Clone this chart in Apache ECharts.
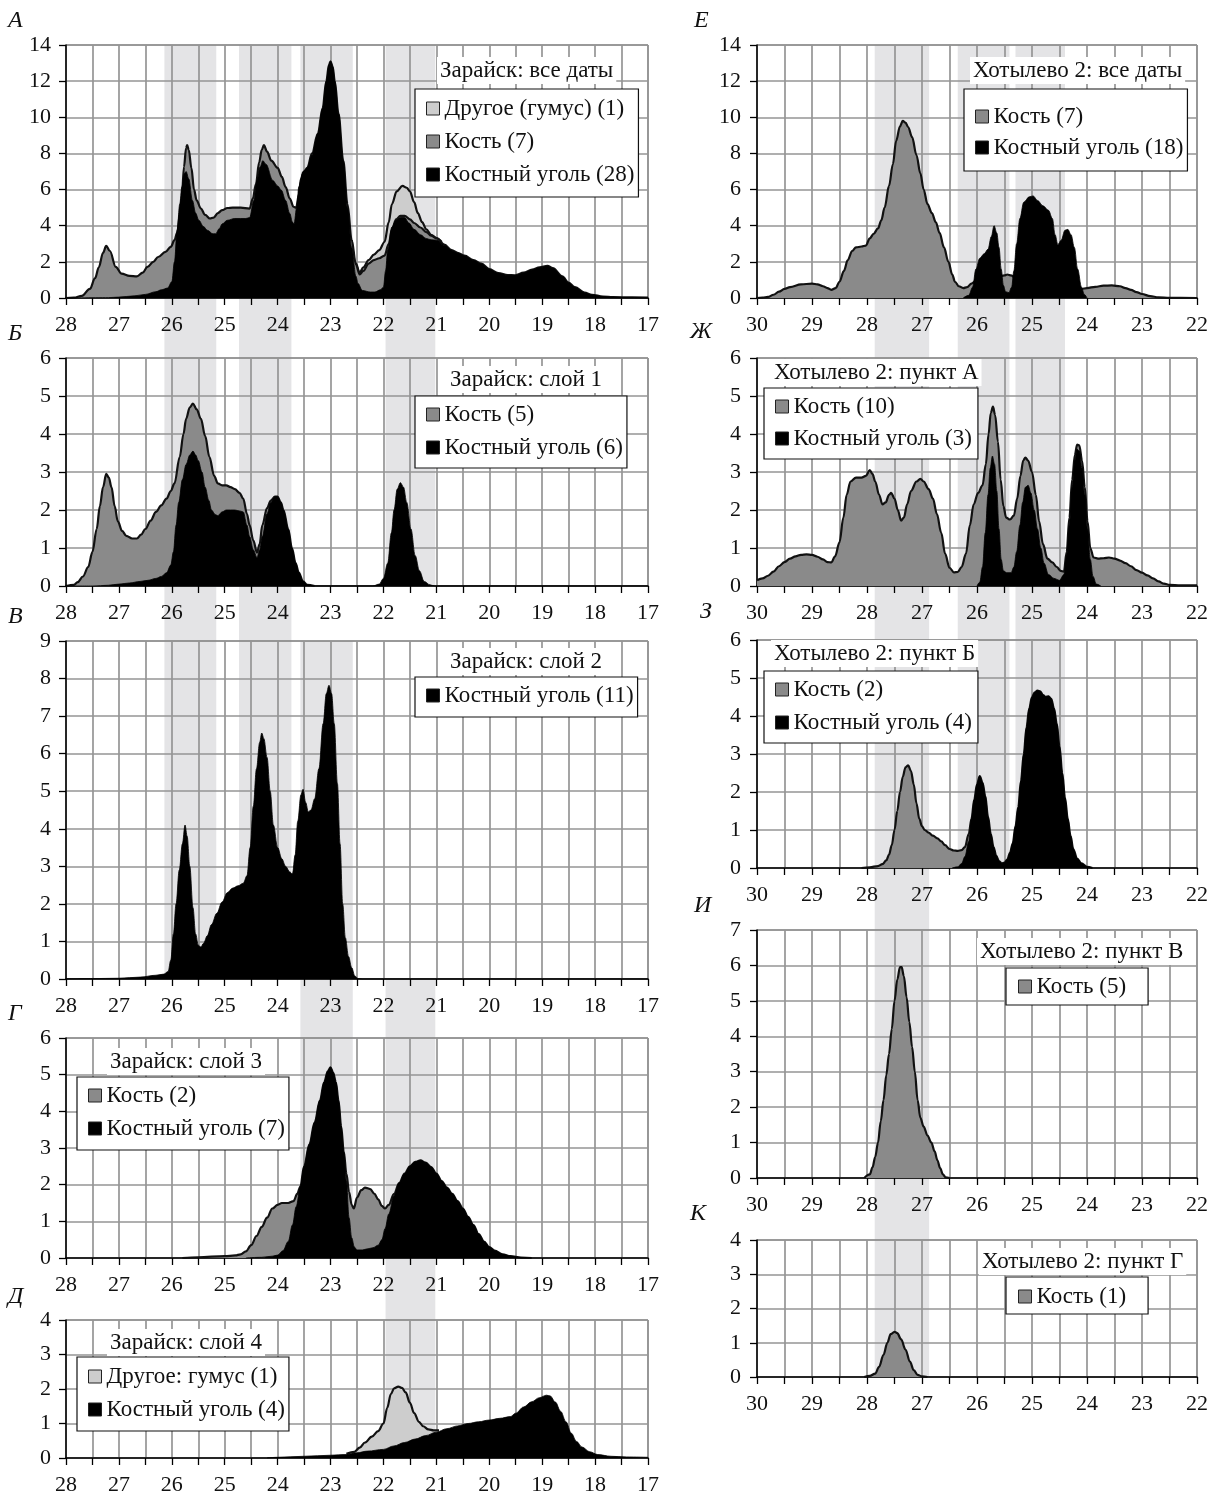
<!DOCTYPE html>
<html>
<head>
<meta charset="utf-8">
<script src="https://cdn.jsdelivr.net/npm/echarts@6/dist/echarts.min.js"></script>
<style>
  html, body { margin: 0; padding: 0; background: #fff; }
  #chart { width: 1221px; height: 1497px; }
</style>
</head>
<body>
<div id="chart"></div>
<script>
// ---------- Summed calibrated-date probability curves (ka cal BP) ----------
// Each array is the visible top edge of one fill: [age, density].

// Зарайск: все даты
const zarAllHumus = [[22.6,3.2],[22.52,1.9],[22.45,1.4],[22.38,1.7],[22.28,2.1],[22.18,2.4],[22.08,2.65],[21.98,3.1],[21.9,4.2],[21.84,5.2],[21.75,5.9],[21.64,6.2],[21.56,6.1],[21.5,5.9],[21.42,5.3],[21.35,4.7],[21.27,4.2],[21.19,3.8],[21.1,3.5],[20.99,3.3],[20.9,3.1]];
const zarAllBone = [[28,0],[27.85,0.02],[27.7,0.12],[27.55,0.5],[27.45,1.1],[27.38,1.7],[27.3,2.5],[27.24,2.88],[27.17,2.6],[27.06,1.72],[26.95,1.35],[26.8,1.22],[26.66,1.2],[26.55,1.4],[26.46,1.72],[26.35,2.0],[26.26,2.27],[26.12,2.55],[26.02,2.83],[25.95,3.2],[25.9,3.6],[25.84,4.8],[25.81,5.6],[25.77,7.26],[25.73,8.3],[25.71,8.46],[25.68,8.2],[25.63,7.2],[25.58,6.0],[25.53,5.4],[25.45,4.95],[25.37,4.6],[25.28,4.4],[25.21,4.45],[25.13,4.7],[25.05,4.86],[24.95,4.98],[24.85,5.0],[24.7,5.0],[24.53,4.95],[24.47,5.5],[24.41,6.3],[24.35,7.5],[24.3,8.2],[24.26,8.46],[24.2,8.1],[24.12,7.6],[24.0,7.2],[23.92,6.7],[23.85,6.15],[23.77,5.5],[23.7,5.05],[23.65,5.0],[23.6,5.7],[23.56,6.6],[23.5,7.0],[23.44,7.2],[23.35,8.0],[23.24,9.1],[23.15,10.5],[23.08,12.0],[23.03,12.9],[23.0,13.1],[22.96,12.8],[22.92,12.0],[22.85,10.2],[22.76,7.6],[22.68,5.2],[22.6,3.2],[22.52,1.85],[22.45,1.3],[22.38,1.5],[22.28,1.9],[22.18,2.1],[22.08,2.2],[21.98,2.35],[21.9,3.0],[21.84,3.8],[21.76,4.35],[21.68,4.55],[21.6,4.55],[21.5,4.35],[21.42,4.15],[21.3,3.9],[21.19,3.65],[21.1,3.45],[20.99,3.3],[20.85,2.95],[20.71,2.65],[20.6,2.5],[20.47,2.35],[20.3,2.1],[20.15,1.9],[20.0,1.6],[19.83,1.38],[19.65,1.27],[19.51,1.26],[19.35,1.4],[19.19,1.57],[19.05,1.7],[18.9,1.78],[18.8,1.65],[18.62,1.2],[18.5,0.85],[18.38,0.6],[18.2,0.3],[18.06,0.18],[17.85,0.08],[17.66,0.05],[17.3,0.03],[17,0.02]];
const zarAllCoal = [[28,0],[27.2,0.02],[27.0,0.05],[26.7,0.12],[26.5,0.2],[26.3,0.35],[26.2,0.45],[26.08,0.55],[26.0,0.9],[25.95,2.0],[25.9,3.75],[25.85,5.2],[25.81,6.15],[25.76,6.9],[25.73,7.0],[25.68,6.6],[25.61,5.4],[25.55,4.7],[25.49,4.3],[25.4,3.95],[25.33,3.75],[25.22,3.55],[25.17,3.56],[25.1,3.85],[25.05,4.1],[24.95,4.3],[24.81,4.4],[24.6,4.4],[24.53,4.45],[24.45,5.4],[24.39,6.5],[24.33,7.26],[24.28,7.6],[24.22,7.4],[24.09,6.5],[24.0,6.2],[23.93,5.97],[23.85,5.4],[23.77,4.67],[23.72,4.2],[23.69,4.1],[23.64,5.0],[23.6,6.15],[23.52,7.0],[23.44,7.2],[23.35,7.9],[23.24,9.1],[23.15,10.5],[23.08,12.0],[23.03,12.9],[23.0,13.1],[22.96,12.8],[22.92,12.0],[22.85,10.2],[22.76,7.6],[22.68,5.0],[22.6,2.8],[22.52,1.2],[22.48,0.8],[22.4,0.42],[22.25,0.33],[22.16,0.33],[22.06,0.45],[22.0,0.6],[21.96,1.5],[21.92,2.64],[21.84,3.93],[21.76,4.3],[21.68,4.45],[21.6,4.45],[21.52,4.15],[21.42,3.8],[21.3,3.5],[21.19,3.29],[21.1,3.22],[20.99,3.2],[20.85,2.9],[20.71,2.62],[20.6,2.48],[20.47,2.33],[20.3,2.08],[20.15,1.88],[20.0,1.58],[19.83,1.36],[19.65,1.25],[19.51,1.24],[19.35,1.38],[19.19,1.55],[19.05,1.68],[18.9,1.76],[18.8,1.63],[18.62,1.18],[18.5,0.83],[18.38,0.58],[18.2,0.28],[18.06,0.16],[17.85,0.07],[17.66,0.04],[17.3,0.02],[17,0.01]];

// Зарайск: слой 1
const zarL1Bone = [[28,0],[27.85,0.03],[27.78,0.1],[27.68,0.25],[27.58,0.5],[27.5,0.9],[27.42,1.5],[27.36,2.1],[27.3,2.6],[27.24,2.95],[27.19,2.85],[27.14,2.6],[27.08,2.1],[27.02,1.7],[26.94,1.45],[26.86,1.32],[26.75,1.25],[26.66,1.25],[26.58,1.35],[26.5,1.5],[26.4,1.72],[26.3,1.95],[26.2,2.12],[26.1,2.3],[26.02,2.5],[25.95,2.7],[25.85,3.4],[25.78,4.0],[25.73,4.4],[25.66,4.7],[25.6,4.8],[25.53,4.65],[25.45,4.4],[25.37,3.95],[25.29,3.4],[25.2,2.9],[25.13,2.7],[25.05,2.65],[24.97,2.65],[24.89,2.6],[24.81,2.55],[24.72,2.45],[24.65,2.3],[24.58,1.9],[24.53,1.6],[24.46,1.2],[24.39,0.88],[24.34,1.1],[24.29,1.6],[24.2,2.05],[24.13,2.25],[24.05,2.35],[24.0,2.35],[23.94,2.2],[23.89,2.0],[23.8,1.5],[23.73,1.0],[23.66,0.6],[23.6,0.35],[23.52,0.12],[23.44,0.03],[23.3,0]];
const zarL1Coal = [[28,0],[27.5,0],[27.2,0.02],[27.0,0.05],[26.8,0.08],[26.6,0.12],[26.45,0.15],[26.3,0.2],[26.2,0.25],[26.1,0.35],[26.02,0.55],[25.97,0.9],[25.92,1.6],[25.87,2.2],[25.8,2.8],[25.73,3.2],[25.66,3.45],[25.6,3.55],[25.55,3.45],[25.5,3.3],[25.43,3.0],[25.37,2.6],[25.3,2.25],[25.25,2.0],[25.18,1.88],[25.13,1.85],[25.05,1.95],[24.97,2.0],[24.81,2.0],[24.7,1.97],[24.65,1.95],[24.58,1.6],[24.53,1.3],[24.46,0.95],[24.39,0.75],[24.34,0.95],[24.29,1.3],[24.2,1.9],[24.13,2.2],[24.05,2.35],[24.0,2.35],[23.94,2.2],[23.89,2.0],[23.8,1.5],[23.73,1.0],[23.66,0.6],[23.6,0.35],[23.52,0.12],[23.44,0.03],[23.3,0],[22.2,0],[22.08,0.05],[22.0,0.2],[21.92,0.6],[21.85,1.4],[21.8,2.0],[21.74,2.55],[21.68,2.72],[21.62,2.6],[21.56,2.2],[21.48,1.5],[21.4,0.8],[21.32,0.4],[21.23,0.12],[21.12,0.03],[21.03,0],[17,0]];

// Зарайск: слой 2
const zarL2Coal = [[28,0],[27.5,0.01],[27,0.02],[26.6,0.05],[26.3,0.1],[26.15,0.13],[26.07,0.2],[26.02,0.5],[25.97,1.2],[25.92,2.0],[25.86,2.9],[25.8,3.6],[25.75,4.1],[25.71,3.8],[25.66,3.0],[25.6,1.9],[25.55,1.2],[25.5,0.9],[25.45,0.85],[25.4,0.95],[25.33,1.15],[25.25,1.45],[25.15,1.75],[25.05,2.05],[24.95,2.3],[24.85,2.42],[24.75,2.48],[24.65,2.55],[24.58,2.75],[24.52,3.5],[24.46,4.6],[24.4,5.6],[24.34,6.3],[24.3,6.55],[24.26,6.4],[24.2,5.9],[24.14,5.0],[24.08,4.1],[24.0,3.5],[23.92,3.2],[23.85,3.0],[23.77,2.85],[23.72,2.8],[23.67,3.3],[23.62,4.2],[23.56,4.9],[23.52,5.05],[23.47,4.7],[23.42,4.45],[23.37,4.5],[23.3,4.8],[23.22,5.6],[23.14,6.8],[23.08,7.6],[23.03,7.82],[22.98,7.6],[22.93,6.8],[22.87,5.2],[22.82,3.6],[22.77,2.0],[22.72,1.1],[22.66,0.6],[22.6,0.3],[22.54,0.08],[22.48,0.01],[22.4,0],[17,0]];

// Зарайск: слой 3
const zarL3Bone = [[25.8,0],[25.5,0.02],[25.0,0.05],[24.8,0.07],[24.7,0.1],[24.6,0.18],[24.5,0.35],[24.4,0.6],[24.3,0.85],[24.2,1.1],[24.1,1.35],[24.0,1.45],[23.92,1.5],[23.8,1.5],[23.7,1.55],[23.63,1.75],[23.57,1.95],[23.5,2.5],[23.4,3.1],[23.3,3.7],[23.2,4.3],[23.12,4.8],[23.05,5.1],[23.0,5.2],[22.95,5.05],[22.9,4.8],[22.85,4.3],[22.8,3.6],[22.75,2.9],[22.7,2.3],[22.65,1.8],[22.6,1.45],[22.56,1.35],[22.5,1.65],[22.42,1.85],[22.35,1.92],[22.25,1.88],[22.17,1.75],[22.1,1.6],[22.03,1.42],[21.97,1.35],[21.9,1.45],[21.8,1.75],[21.7,2.05],[21.6,2.3],[21.5,2.5],[21.4,2.62],[21.3,2.66],[21.2,2.6],[21.1,2.48],[21.0,2.3],[20.9,2.1],[20.8,1.92],[20.7,1.75],[20.6,1.55],[20.5,1.35],[20.4,1.12],[20.3,0.9],[20.2,0.65],[20.1,0.45],[20.0,0.3],[19.9,0.2],[19.75,0.1],[19.6,0.05],[19.4,0.01],[19.2,0]];
const zarL3Coal = [[24.6,0],[24.3,0.02],[24.1,0.05],[24.0,0.08],[23.9,0.2],[23.8,0.45],[23.72,0.9],[23.65,1.4],[23.57,1.95],[23.5,2.5],[23.4,3.1],[23.3,3.7],[23.2,4.3],[23.12,4.8],[23.05,5.1],[23.0,5.2],[22.95,5.05],[22.9,4.8],[22.85,4.3],[22.8,3.6],[22.75,2.9],[22.7,2.1],[22.65,1.1],[22.6,0.55],[22.55,0.3],[22.5,0.22],[22.4,0.22],[22.3,0.25],[22.2,0.28],[22.1,0.35],[22.03,0.5],[21.97,0.8],[21.9,1.2],[21.8,1.7],[21.7,2.05],[21.6,2.3],[21.5,2.5],[21.4,2.62],[21.3,2.66],[21.2,2.6],[21.1,2.48],[21.0,2.3],[20.9,2.1],[20.8,1.92],[20.7,1.75],[20.6,1.55],[20.5,1.35],[20.4,1.12],[20.3,0.9],[20.2,0.65],[20.1,0.45],[20.0,0.3],[19.9,0.2],[19.75,0.1],[19.6,0.05],[19.4,0.01],[19.2,0]];

// Зарайск: слой 4
const zarL4Humus = [[22.7,0.12],[22.55,0.18],[22.45,0.3],[22.35,0.45],[22.22,0.62],[22.1,0.78],[22.0,1.0],[21.93,1.45],[21.86,1.85],[21.8,2.02],[21.72,2.07],[21.65,2.03],[21.58,1.9],[21.5,1.6],[21.42,1.3],[21.33,1.05],[21.25,0.92],[21.15,0.83],[21.05,0.8],[20.95,0.8]];
const zarL4Coal = [[24.2,0],[24.0,0.02],[23.5,0.05],[23.0,0.08],[22.7,0.1],[22.5,0.15],[22.3,0.2],[22.0,0.25],[21.8,0.35],[21.6,0.45],[21.4,0.55],[21.2,0.65],[21.0,0.75],[20.8,0.85],[20.6,0.93],[20.4,1.0],[20.2,1.05],[20.0,1.1],[19.8,1.15],[19.6,1.2],[19.5,1.3],[19.35,1.48],[19.2,1.63],[19.05,1.75],[18.92,1.82],[18.85,1.8],[18.75,1.62],[18.65,1.35],[18.55,1.05],[18.45,0.72],[18.35,0.48],[18.25,0.32],[18.1,0.18],[17.95,0.1],[17.7,0.05],[17.4,0.03],[17,0.02]];

// Хотылево 2: все даты
const khoAllBone = [[30,0],[29.9,0.02],[29.8,0.06],[29.7,0.18],[29.6,0.35],[29.5,0.5],[29.4,0.6],[29.2,0.75],[29.0,0.8],[28.9,0.75],[28.8,0.65],[28.72,0.55],[28.65,0.45],[28.57,0.55],[28.5,0.9],[28.42,1.5],[28.35,2.1],[28.27,2.6],[28.2,2.8],[28.1,2.85],[28.02,2.9],[27.95,3.3],[27.88,3.55],[27.8,3.85],[27.74,4.3],[27.68,5.0],[27.6,6.2],[27.53,7.4],[27.47,8.7],[27.4,9.5],[27.35,9.8],[27.3,9.7],[27.25,9.45],[27.18,8.9],[27.1,7.9],[27.03,6.9],[26.97,6.0],[26.9,5.2],[26.82,4.7],[26.75,4.2],[26.68,3.6],[26.6,2.8],[26.52,2.0],[26.45,1.3],[26.4,0.9],[26.33,0.65],[26.25,0.55],[26.18,0.6],[26.1,0.8],[26.0,1.0],[25.8,1.1],[25.6,1.2],[25.5,1.25],[25.45,1.3],[25.38,1.25],[25.3,1.1],[24.1,0.5],[24.0,0.55],[23.85,0.62],[23.7,0.68],[23.55,0.7],[23.4,0.65],[23.3,0.55],[23.2,0.45],[23.1,0.33],[23.0,0.22],[22.85,0.1],[22.7,0.04],[22.5,0.01],[22,0]];
const khoAllCoal = [[26.25,0],[26.15,0.15],[26.08,0.6],[26.02,1.6],[25.95,2.2],[25.87,2.45],[25.8,2.7],[25.74,3.4],[25.69,4.0],[25.64,3.6],[25.6,2.8],[25.56,1.6],[25.52,0.7],[25.48,0.35],[25.42,0.3],[25.37,0.6],[25.33,1.5],[25.28,3.0],[25.22,4.4],[25.15,5.3],[25.05,5.6],[24.98,5.65],[24.9,5.4],[24.8,5.1],[24.7,4.85],[24.63,4.4],[24.58,3.5],[24.53,2.95],[24.47,3.2],[24.4,3.75],[24.35,3.8],[24.29,3.5],[24.23,2.8],[24.17,1.6],[24.1,0.6],[24.05,0.2],[24.0,0]];

// Хотылево 2: пункт А
const khoAPtBone = [[30,0.15],[29.9,0.2],[29.8,0.27],[29.7,0.38],[29.6,0.52],[29.5,0.63],[29.4,0.72],[29.3,0.78],[29.2,0.82],[29.1,0.83],[29.0,0.82],[28.9,0.77],[28.8,0.7],[28.72,0.63],[28.65,0.62],[28.58,0.78],[28.5,1.15],[28.43,1.8],[28.37,2.4],[28.3,2.75],[28.2,2.85],[28.1,2.85],[28.02,2.9],[27.95,3.05],[27.9,2.95],[27.85,2.75],[27.78,2.4],[27.72,2.15],[27.66,2.2],[27.6,2.4],[27.56,2.45],[27.5,2.3],[27.44,2.0],[27.38,1.72],[27.33,1.8],[27.27,2.15],[27.2,2.5],[27.1,2.75],[27.03,2.82],[26.97,2.75],[26.88,2.55],[26.8,2.3],[26.73,1.9],[26.65,1.4],[26.58,0.85],[26.5,0.48],[26.42,0.36],[26.35,0.37],[26.28,0.5],[26.2,0.85],[26.13,1.6],[26.06,2.15],[25.98,2.45],[25.9,2.65],[25.84,3.2],[25.79,4.0],[25.75,4.55],[25.71,4.72],[25.67,4.5],[25.62,3.8],[25.57,2.8],[25.52,2.1],[25.47,1.8],[25.4,1.75],[25.33,1.85],[25.27,2.3],[25.21,2.9],[25.16,3.3],[25.12,3.38],[25.07,3.3],[25.0,3.0],[24.93,2.4],[24.87,1.7],[24.8,1.1],[24.72,0.72],[24.63,0.62],[24.55,0.5],[24.48,0.4],[24.42,0.38],[24.37,0.9],[24.32,1.8],[24.27,2.8],[24.22,3.45],[24.18,3.72],[24.14,3.7],[24.09,3.3],[24.04,2.6],[23.99,1.7],[23.94,1.0],[23.88,0.75],[23.8,0.72],[23.7,0.73],[23.6,0.75],[23.5,0.72],[23.4,0.67],[23.3,0.6],[23.2,0.52],[23.1,0.42],[23.0,0.35],[22.9,0.28],[22.8,0.2],[22.7,0.12],[22.6,0.06],[22.5,0.03],[22.3,0.02],[22,0.02]];
const khoAPtCoal = [[26.0,0],[25.95,0.1],[25.9,0.5],[25.85,1.4],[25.8,2.4],[25.76,3.1],[25.72,3.42],[25.68,3.2],[25.64,2.5],[25.6,1.5],[25.56,0.7],[25.52,0.4],[25.46,0.35],[25.38,0.35],[25.33,0.5],[25.28,0.9],[25.22,1.6],[25.17,2.2],[25.12,2.6],[25.07,2.65],[25.02,2.45],[24.96,2.0],[24.9,1.5],[24.84,1.0],[24.78,0.6],[24.7,0.3],[24.6,0.2],[24.5,0.15],[24.42,0.3],[24.37,0.8],[24.32,1.6],[24.27,2.6],[24.22,3.3],[24.18,3.6],[24.14,3.55],[24.09,3.1],[24.04,2.4],[23.99,1.5],[23.94,0.7],[23.89,0.25],[23.83,0.05],[23.75,0]];

// Хотылево 2: пункт Б
const khoBPtBone = [[28.1,0],[27.95,0.02],[27.8,0.05],[27.72,0.1],[27.65,0.2],[27.6,0.35],[27.55,0.6],[27.5,1.0],[27.45,1.5],[27.4,2.0],[27.35,2.4],[27.3,2.65],[27.25,2.7],[27.2,2.55],[27.15,2.2],[27.1,1.7],[27.05,1.3],[27.0,1.1],[26.95,1.0],[26.88,0.93],[26.8,0.85],[26.72,0.78],[26.65,0.7],[26.58,0.6],[26.5,0.5],[26.42,0.46],[26.35,0.45],[26.28,0.47],[26.22,0.55],[26.15,0.9],[26.1,1.3],[26.05,1.8],[26.0,2.2],[25.95,2.42],[25.9,2.25],[25.85,1.9],[25.8,1.35],[25.75,0.9],[25.7,0.55],[25.65,0.32],[25.6,0.18],[25.55,0.12],[25.5,0.14],[25.45,0.22],[25.4,0.4],[25.35,0.65],[25.3,1.1],[25.25,1.6],[25.2,2.3],[25.15,3.0],[25.1,3.7],[25.05,4.2],[25.0,4.5],[24.95,4.62],[24.9,4.67],[24.85,4.65],[24.8,4.55],[24.75,4.5],[24.7,4.52],[24.65,4.45],[24.6,4.2],[24.55,3.8],[24.5,3.2],[24.45,2.5],[24.4,1.85],[24.35,1.3],[24.3,0.85],[24.25,0.5],[24.18,0.25],[24.1,0.12],[24.0,0.03],[23.9,0]];
const khoBPtCoal = [[26.45,0],[26.35,0.03],[26.28,0.12],[26.22,0.3],[26.15,0.7],[26.1,1.3],[26.05,1.8],[26.0,2.2],[25.95,2.42],[25.9,2.25],[25.85,1.9],[25.8,1.35],[25.75,0.9],[25.7,0.55],[25.65,0.32],[25.6,0.18],[25.55,0.12],[25.5,0.14],[25.45,0.22],[25.4,0.4],[25.35,0.65],[25.3,1.1],[25.25,1.6],[25.2,2.3],[25.15,3.0],[25.1,3.7],[25.05,4.2],[25.0,4.5],[24.95,4.62],[24.9,4.67],[24.85,4.65],[24.8,4.55],[24.75,4.5],[24.7,4.52],[24.65,4.45],[24.6,4.2],[24.55,3.8],[24.5,3.2],[24.45,2.5],[24.4,1.85],[24.35,1.3],[24.3,0.85],[24.25,0.5],[24.18,0.25],[24.1,0.12],[24.0,0.03],[23.9,0]];

// Хотылево 2: пункт В
const khoVPtBone = [[28.05,0],[27.95,0.1],[27.9,0.3],[27.85,0.6],[27.8,1.0],[27.75,1.6],[27.7,2.2],[27.65,2.9],[27.6,3.5],[27.55,4.2],[27.5,5.0],[27.45,5.6],[27.4,5.95],[27.37,5.95],[27.33,5.7],[27.28,5.1],[27.23,4.4],[27.18,3.7],[27.13,3.0],[27.08,2.2],[27.03,1.7],[26.97,1.45],[26.9,1.2],[26.83,1.0],[26.77,0.75],[26.72,0.5],[26.67,0.28],[26.62,0.1],[26.57,0.02],[26.5,0]];

// Хотылево 2: пункт Г
const khoGPtBone = [[28.05,0],[27.95,0.03],[27.85,0.1],[27.78,0.3],[27.7,0.65],[27.63,1.0],[27.57,1.25],[27.5,1.32],[27.45,1.28],[27.38,1.1],[27.3,0.8],[27.22,0.45],[27.15,0.2],[27.08,0.06],[27.0,0.02],[26.9,0]];

// Shaded age intervals [older edge, younger edge] and the panels they run through
const bandsLeft = [
  { from: 26.14, to: 25.16, first: 'А', last: 'В' },
  { from: 24.73, to: 23.74, first: 'А', last: 'В' },
  { from: 23.57, to: 22.58, first: 'А', last: 'А' },
  { from: 23.57, to: 22.58, first: 'В', last: 'Г' },
  { from: 21.96, to: 21.02, first: 'А', last: 'Б' },
  { from: 21.96, to: 21.02, firstBottomOf: 'В', last: 'Д' }
];
const bandsRight = [
  { from: 27.86, to: 26.87, first: 'Е', last: 'К' },
  { from: 26.35, to: 25.41, first: 'Е', last: 'З' },
  { from: 25.30, to: 24.40, first: 'Е', last: 'З' }
];

// Axis ranges
const leftAges = { min: 17, max: 28, step: 1 };
const rightAges = { min: 22, max: 30, step: 1 };
const densityAxes = {
  'А': { max: 14, step: 2 }, 'Б': { max: 6, step: 1 }, 'В': { max: 9, step: 1 },
  'Г': { max: 6, step: 1 }, 'Д': { max: 4, step: 1 },
  'Е': { max: 14, step: 2 }, 'Ж': { max: 6, step: 1 }, 'З': { max: 6, step: 1 },
  'И': { max: 7, step: 1 }, 'К': { max: 4, step: 1 }
};

// Panel captions
const captions = {
  'А': 'Зарайск: все даты', 'Б': 'Зарайск: слой 1', 'В': 'Зарайск: слой 2',
  'Г': 'Зарайск: слой 3', 'Д': 'Зарайск: слой 4',
  'Е': 'Хотылево 2: все даты', 'Ж': 'Хотылево 2: пункт А', 'З': 'Хотылево 2: пункт Б',
  'И': 'Хотылево 2: пункт В', 'К': 'Хотылево 2: пункт Г'
};

// Series per panel, bottom-most fill first
const seriesList = [
  { panel: 'А', name: 'Другое (гумус) (1)', kind: 'humus', data: zarAllHumus },
  { panel: 'А', name: 'Кость (7)', kind: 'bone', data: zarAllBone },
  { panel: 'А', name: 'Костный уголь (28)', kind: 'coal', data: zarAllCoal },
  { panel: 'Б', name: 'Кость (5)', kind: 'bone', data: zarL1Bone },
  { panel: 'Б', name: 'Костный уголь (6)', kind: 'coal', data: zarL1Coal },
  { panel: 'В', name: 'Костный уголь (11)', kind: 'coal', data: zarL2Coal },
  { panel: 'Г', name: 'Кость (2)', kind: 'bone', data: zarL3Bone },
  { panel: 'Г', name: 'Костный уголь (7)', kind: 'coal', data: zarL3Coal },
  { panel: 'Д', name: 'Другое: гумус (1)', kind: 'humus', data: zarL4Humus },
  { panel: 'Д', name: 'Костный уголь (4)', kind: 'coal', data: zarL4Coal },
  { panel: 'Е', name: 'Кость (7)', kind: 'bone', data: khoAllBone },
  { panel: 'Е', name: 'Костный уголь (18)', kind: 'coal', data: khoAllCoal },
  { panel: 'Ж', name: 'Кость (10)', kind: 'bone', data: khoAPtBone },
  { panel: 'Ж', name: 'Костный уголь (3)', kind: 'coal', data: khoAPtCoal },
  { panel: 'З', name: 'Кость (2)', kind: 'bone', data: khoBPtBone },
  { panel: 'З', name: 'Костный уголь (4)', kind: 'coal', data: khoBPtCoal },
  { panel: 'И', name: 'Кость (5)', kind: 'bone', data: khoVPtBone },
  { panel: 'К', name: 'Кость (1)', kind: 'bone', data: khoGPtBone }
];

// Legend order per panel
const legendOrder = {
  'А': ['Другое (гумус) (1)', 'Кость (7)', 'Костный уголь (28)'],
  'Б': ['Кость (5)', 'Костный уголь (6)'],
  'В': ['Костный уголь (11)'],
  'Г': ['Кость (2)', 'Костный уголь (7)'],
  'Д': ['Другое: гумус (1)', 'Костный уголь (4)'],
  'Е': ['Кость (7)', 'Костный уголь (18)'],
  'Ж': ['Кость (10)', 'Костный уголь (3)'],
  'З': ['Кость (2)', 'Костный уголь (4)'],
  'И': ['Кость (5)'],
  'К': ['Кость (1)']
};

// ---------- layout & styling ----------
const FONT = '"Liberation Serif", "Times New Roman", serif';
const FS = 23;       // captions and legends
const FS_TICK = 22;  // axis numbers
const columns = {
  L: { left: 66, width: 582, ages: leftAges, labelMargin: 15 },
  R: { left: 757, width: 440, ages: rightAges, labelMargin: 16 }
};
const layout = {
  'А': { col: 'L', top: 45, height: 253, letter: [8, 9],
         caption: [437, 57], legend: { left: 415, top: 89, padding: [8, 4, 11, 11], gap: 10 } },
  'Б': { col: 'L', top: 358, height: 228, letter: [8, 322],
         caption: [447, 366], legend: { left: 415, top: 396, padding: [7, 4, 9, 11], gap: 10 } },
  'В': { col: 'L', top: 641, height: 338, letter: [8, 605],
         caption: [447, 648], legend: { left: 415, top: 677, padding: [7, 4, 10, 11], gap: 10 } },
  'Г': { col: 'L', top: 1038, height: 220, letter: [8, 1002],
         caption: [107, 1048], legend: { left: 77, top: 1077, padding: [7, 4, 10, 11], gap: 10 } },
  'Д': { col: 'L', top: 1320, height: 138, letter: [8, 1285],
         caption: [107, 1329], legend: { left: 77, top: 1357, padding: [8, 4, 10, 11], gap: 10 } },
  'Е': { col: 'R', top: 45, height: 253, letter: [694, 9],
         caption: [970, 57], legend: { left: 964, top: 89, padding: [16, 4, 12, 11], gap: 8 } },
  'Ж': { col: 'R', top: 358, height: 228, letter: [690, 320],
         caption: [771, 359], legend: { left: 764, top: 388, padding: [7, 6, 9, 11], gap: 9 } },
  'З': { col: 'R', top: 640, height: 228, letter: [700, 600],
         caption: [771, 640], legend: { left: 764, top: 671, padding: [7, 6, 9, 11], gap: 10 } },
  'И': { col: 'R', top: 930, height: 248, letter: [694, 894],
         caption: [977, 938], legend: { left: 1006, top: 968, padding: [7, 22, 7, 12], gap: 10 } },
  'К': { col: 'R', top: 1240, height: 137, letter: [690, 1202],
         caption: [979, 1248], legend: { left: 1006, top: 1277, padding: [8, 22, 6, 12], gap: 10 } }
};
const fills = {
  humus: { area: '#cdcdcd', line: '#111', lineWidth: 2.2, z: 3 },
  bone:  { area: '#8a8a8a', line: '#111', lineWidth: 2.2, z: 4 },
  coal:  { area: '#000000', line: '#000', lineWidth: 0.8, z: 5 }
};
const BAND = '#e4e4e6';
const GRIDLINE = '#959595';

const panelKeys = Object.keys(layout);
const grids = [], xAxes = [], yAxes = [], series = [], legends = [], titles = [];

panelKeys.forEach((key, i) => {
  const L = layout[key];
  const col = columns[L.col];
  const ya = densityAxes[key];
  grids.push({ left: col.left, top: L.top, width: col.width, height: L.height,
               show: true, borderColor: '#555', borderWidth: 1, backgroundColor: 'transparent' });
  xAxes.push({
    gridIndex: i, type: 'value', inverse: true,
    min: col.ages.min, max: col.ages.max, interval: col.ages.step,
    axisLine: { show: true, onZero: false, lineStyle: { color: '#000', width: 1.5 } },
    axisTick: { show: true, length: 7, lineStyle: { color: '#000', width: 1.3 } },
    minorTick: { show: true, splitNumber: 2, length: 7, lineStyle: { color: '#000', width: 1.3 } },
    splitLine: { show: true, lineStyle: { color: GRIDLINE, width: 1.7 } },
    minorSplitLine: { show: true, lineStyle: { color: GRIDLINE, width: 1.7 } },
    axisLabel: { fontFamily: FONT, fontSize: FS_TICK, color: '#111', margin: 16 }
  });
  yAxes.push({
    gridIndex: i, type: 'value', min: 0, max: ya.max, interval: ya.step,
    axisLine: { show: true, lineStyle: { color: '#000', width: 1.5 } },
    axisTick: { show: true, length: 7, lineStyle: { color: '#000', width: 1.3 } },
    splitLine: { show: true, lineStyle: { color: GRIDLINE, width: 1.7 } },
    axisLabel: { fontFamily: FONT, fontSize: FS_TICK, color: '#111', margin: col.labelMargin }
  });
  // panel letter
  titles.push({ text: key, left: L.letter[0], top: L.letter[1], padding: 0,
    textStyle: { fontFamily: FONT, fontSize: 24, fontStyle: 'italic', fontWeight: 'normal', color: '#111' } });
  // caption
  titles.push({ text: captions[key], left: L.caption[0], top: L.caption[1], padding: [1, 3],
    backgroundColor: '#fff',
    textStyle: { fontFamily: FONT, fontSize: FS, fontWeight: 'normal', color: '#111', lineHeight: 25 } });
  // legend box
  legends.push({
    left: L.legend.left, top: L.legend.top, orient: 'vertical',
    padding: L.legend.padding, itemGap: L.legend.gap,
    backgroundColor: '#fff', borderColor: '#111', borderWidth: 1.2, borderRadius: 0,
    icon: 'rect', itemWidth: 13, itemHeight: 13,
    selectedMode: false,
    textStyle: { fontFamily: FONT, fontSize: FS, color: '#111', lineHeight: 23 },
    data: legendOrder[key].map(name => {
      const kind = seriesList.find(s => s.panel === key && s.name === name).kind;
      return { name, itemStyle: { color: fills[kind].area, borderColor: '#222', borderWidth: 1 } };
    })
  });
});

seriesList.forEach(s => {
  const idx = panelKeys.indexOf(s.panel);
  const f = fills[s.kind];
  series.push({
    type: 'line', name: s.name, xAxisIndex: idx, yAxisIndex: idx,
    data: s.data, symbol: 'none', smooth: 0.35, smoothMonotone: 'x',
    lineStyle: { color: f.line, width: f.lineWidth },
    itemStyle: { color: f.area },
    areaStyle: { color: f.area, opacity: 1, origin: 'start' },
    silent: true, z: f.z
  });
});

// Overlay grids for the shaded intervals, one per column, y measured in page pixels
const PAGE_H = 1497;
function bandRows(list) {
  return list.map(b => {
    const y0 = b.first ? layout[b.first].top : layout[b.firstBottomOf].top + layout[b.firstBottomOf].height;
    const y1 = layout[b.last].top + layout[b.last].height;
    return [b.from, b.to, y0, y1];
  });
}
['L', 'R'].forEach(c => {
  const col = columns[c];
  const gi = grids.length;
  grids.push({ left: col.left, width: col.width, top: 0, height: PAGE_H, show: false });
  xAxes.push({ gridIndex: gi, type: 'value', inverse: true, min: col.ages.min, max: col.ages.max, show: false });
  yAxes.push({ gridIndex: gi, type: 'value', inverse: true, min: 0, max: PAGE_H, show: false });
  series.push({
    type: 'custom', xAxisIndex: gi, yAxisIndex: gi, z: -5, silent: true, clip: false,
    data: bandRows(c === 'L' ? bandsLeft : bandsRight),
    encode: { x: [0, 1], y: [2, 3] },
    renderItem: (params, api) => {
      const p0 = api.coord([api.value(0), api.value(2)]);
      const p1 = api.coord([api.value(1), api.value(3)]);
      return { type: 'rect',
        shape: { x: Math.min(p0[0], p1[0]), y: p0[1], width: Math.abs(p1[0] - p0[0]), height: p1[1] - p0[1] },
        style: { fill: BAND } };
    }
  });
});

const chart = echarts.init(document.getElementById('chart'), null, { renderer: 'canvas' });
chart.setOption({
  animation: false,
  backgroundColor: '#fff',
  title: titles,
  legend: legends,
  grid: grids,
  xAxis: xAxes,
  yAxis: yAxes,
  series: series
});
</script>
</body>
</html>
